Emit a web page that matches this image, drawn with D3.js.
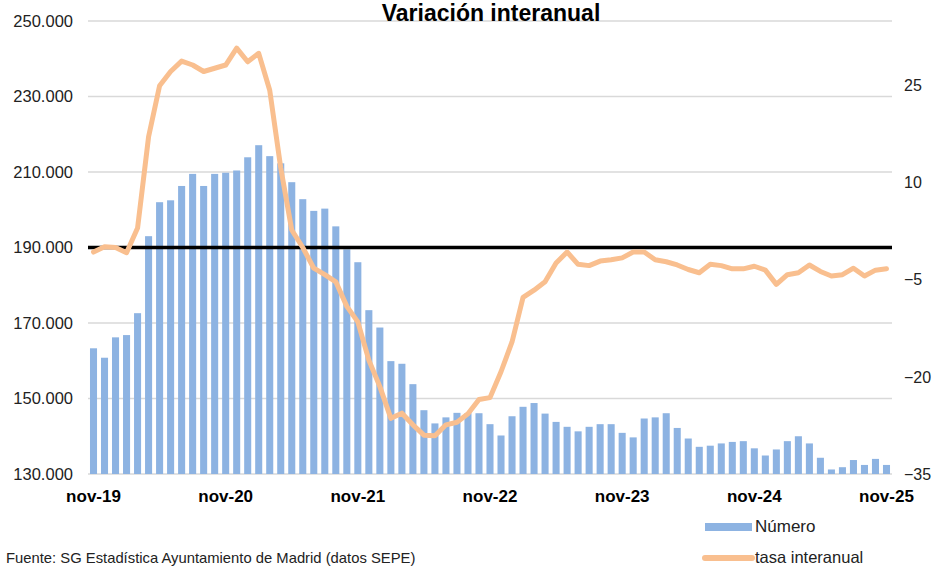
<!DOCTYPE html>
<html>
<head>
<meta charset="utf-8">
<script src="https://cdn.jsdelivr.net/npm/d3@7"></script>
<style>
  body { margin: 0; background: white; }
  svg { display: block; font-family: Arial, "Liberation Sans", sans-serif; }
</style>
</head>
<body>
<script>
const width = 932;
const height = 568;
const margin = { top: 21, right: 40, bottom: 94, left: 88 };

// demandantes / paro registrado, nov-19 .. nov-25 (one value per month)
const numero = [
  163300, 160800, 166200, 166800, 172600, 193000, 202000, 202500, 206300, 209500,
  206300, 209500, 209800, 210400, 213900, 217100, 214200, 212300, 207300, 202800,
  199700, 200300, 195600, 189500, 186100, 173400, 168800, 159900, 159200, 153800,
  146900, 143400, 145000, 146200, 146100, 146100, 143200, 140200, 145300, 147800,
  148800, 146000, 143800, 142500, 141300, 142500, 143200, 143200, 140900, 139700,
  144700, 145000, 146100, 142200, 139400, 137200, 137500, 138100, 138500, 138700,
  136800, 134900, 136500, 138700, 140000, 138100, 134300, 131200, 131800, 133700,
  132400, 134000, 132400
];

// tasa interanual (%)
const tasa = [
  -0.7, 0.1, 0, -0.8, 3.0, 17.1, 25.0, 27.2, 28.8, 28.2,
  27.2, 27.7, 28.2, 30.8, 28.7, 30.0, 24.3, 12.3, 2.7, 0,
  -3.2, -4.2, -5.3, -9.1, -11.5, -17.4, -21.5, -26.4, -25.6, -27.4,
  -29.0, -29.1, -27.4, -27.0, -25.7, -23.5, -23.2, -19.2, -14.6, -7.7,
  -6.6, -5.3, -2.4, -0.7, -2.6, -2.8, -2.1, -1.9, -1.6, -0.7,
  -0.7, -1.9, -2.2, -2.7, -3.4, -3.9, -2.6, -2.8, -3.3, -3.3,
  -2.9, -3.5, -5.7, -4.2, -3.9, -2.7, -3.7, -4.4, -4.2, -3.2,
  -4.4, -3.5, -3.3
];

const months = d3.timeMonth.range(new Date(2019, 10, 1), new Date(2025, 11, 1));
const xTickLabels = ["nov-19", "nov-20", "nov-21", "nov-22", "nov-23", "nov-24", "nov-25"];
const leftTicks = [130000, 150000, 170000, 190000, 210000, 230000, 250000];
const rightTicks = [-35, -20, -5, 10, 25];

const barColor = "#8db3e2";
const lineColor = "#f9bf8f";

const esLocale = d3.formatLocale({ decimal: ",", thousands: ".", grouping: [3], currency: ["", "€"] });
const fmtMiles = esLocale.format(",.0f");

const svg = d3.select("body").append("svg")
  .attr("width", width)
  .attr("height", height);

const x = d3.scaleBand()
  .domain(d3.range(months.length))
  .range([margin.left, width - margin.right])
  .paddingInner(0.36)
  .paddingOuter(0.18);

const yLeft = d3.scaleLinear()
  .domain([130000, 250000])
  .range([height - margin.bottom, margin.top]);

const yRight = d3.scaleLinear()
  .domain([-35, 35])
  .range([height - margin.bottom, margin.top]);

// grid lines
svg.append("g")
  .attr("class", "grid")
  .selectAll("line")
  .data(leftTicks)
  .join("line")
  .attr("x1", margin.left)
  .attr("x2", width - margin.right)
  .attr("y1", d => yLeft(d))
  .attr("y2", d => yLeft(d))
  .attr("stroke", "#d9d9d9")
  .attr("stroke-width", 1.3);

// bars
svg.append("g")
  .selectAll("rect")
  .data(numero)
  .join("rect")
  .attr("x", (d, i) => x(i))
  .attr("width", x.bandwidth())
  .attr("y", d => yLeft(d))
  .attr("height", d => yLeft(130000) - yLeft(d))
  .attr("fill", barColor);

// zero line of the rate
svg.append("line")
  .attr("x1", margin.left)
  .attr("x2", width - margin.right)
  .attr("y1", yRight(0))
  .attr("y2", yRight(0))
  .attr("stroke", "black")
  .attr("stroke-width", 3.5);

const line = d3.line()
  .x((d, i) => x(i) + x.bandwidth() / 2)
  .y(d => yRight(d));

svg.append("path")
  .datum(tasa)
  .attr("d", line)
  .attr("fill", "none")
  .attr("stroke", lineColor)
  .attr("stroke-width", 5)
  .attr("stroke-linejoin", "round")
  .attr("stroke-linecap", "round");

// left axis
const yAxisLeft = d3.axisLeft(yLeft)
  .tickValues(leftTicks)
  .tickFormat(fmtMiles)
  .tickSize(0)
  .tickPadding(15);

svg.append("g")
  .attr("transform", `translate(${margin.left},0)`)
  .call(yAxisLeft)
  .call(g => g.select(".domain").remove())
  .selectAll("text")
  .attr("font-size", "16.5px")
  .attr("font-family", "Arial, 'Liberation Sans', sans-serif")
  .attr("fill", "#222");

// right axis
const yAxisRight = d3.axisRight(yRight)
  .tickValues(rightTicks)
  .tickSize(0)
  .tickPadding(12);

svg.append("g")
  .attr("transform", `translate(${width - margin.right},0)`)
  .call(yAxisRight)
  .call(g => g.select(".domain").remove())
  .selectAll("text")
  .attr("font-size", "16px")
  .attr("font-family", "Arial, 'Liberation Sans', sans-serif")
  .attr("fill", "#222");

// x axis, one label per november
const novIdx = months.map((m, i) => i).filter(i => months[i].getMonth() === 10);

const xAxis = d3.axisBottom(x)
  .tickValues(novIdx)
  .tickFormat((d, i) => xTickLabels[i])
  .tickSize(0)
  .tickPadding(16);

svg.append("g")
  .attr("transform", `translate(0,${height - margin.bottom})`)
  .call(xAxis)
  .call(g => g.select(".domain").remove())
  .selectAll("text")
  .attr("font-size", "17px")
  .attr("font-weight", "bold")
  .attr("font-family", "Arial, 'Liberation Sans', sans-serif")
  .attr("fill", "black");

// title
svg.append("text")
  .attr("x", 491)
  .attr("y", 21)
  .attr("text-anchor", "middle")
  .attr("font-size", "23px")
  .attr("font-weight", "bold")
  .attr("fill", "black")
  .text("Variación interanual");

// legend
const legend = svg.append("g").attr("transform", "translate(705,0)");

legend.append("rect")
  .attr("x", 0)
  .attr("y", 523)
  .attr("width", 47)
  .attr("height", 8)
  .attr("fill", barColor);

legend.append("text")
  .attr("x", 50)
  .attr("y", 532)
  .attr("font-size", "17px")
  .attr("fill", "#222")
  .text("Número");

legend.append("line")
  .attr("x1", 0)
  .attr("x2", 47)
  .attr("y1", 558)
  .attr("y2", 558)
  .attr("stroke", lineColor)
  .attr("stroke-width", 6)
  .attr("stroke-linecap", "round");

legend.append("text")
  .attr("x", 50)
  .attr("y", 563)
  .attr("font-size", "16.5px")
  .attr("fill", "#222")
  .text("tasa interanual");

// source
svg.append("text")
  .attr("x", 6)
  .attr("y", 563)
  .attr("font-size", "14.8px")
  .attr("fill", "#222")
  .text("Fuente: SG Estadística Ayuntamiento de Madrid (datos SEPE)");
</script>
</body>
</html>
